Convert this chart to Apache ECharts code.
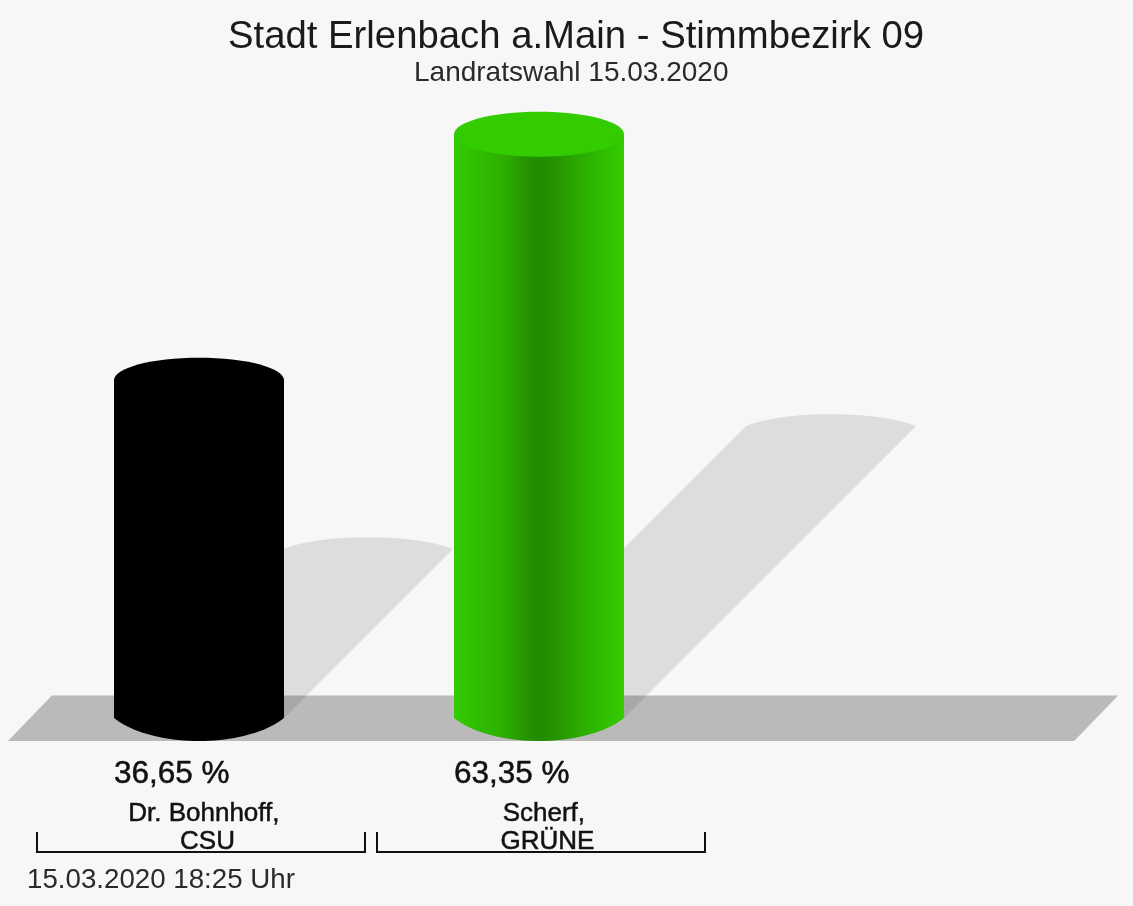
<!DOCTYPE html>
<html>
<head>
<meta charset="utf-8">
<title>Stimmbezirk 09</title>
<style>html,body{margin:0;padding:0;background:#f7f7f7}#c{width:1133px;height:906px}</style>
<script src="https://cdn.jsdelivr.net/npm/echarts@6/dist/echarts.min.js"></script>
</head>
<body>
<div id="c"></div>
<script>
const titleText = 'Stadt Erlenbach a.Main - Stimmbezirk 09';
const subtitleText = 'Landratswahl 15.03.2020';
const timestampText = '15.03.2020 18:25 Uhr';
const categories = ['Dr. Bohnhoff, \nCSU', 'Scherf, \nGRÜNE'];
const shares = [36.65, 63.35];
const barStops = [
  ['#000000', '#000000', '#000000', '#000000', '#000000'],
  ['#33cc00', '#30c000', '#2cae00', '#259400', '#228b00']
];

const chart = echarts.init(document.getElementById('c'), null, {renderer: 'canvas'});
const FONT = '"Liberation Sans", Arial, sans-serif';

function arc(cx, cy, rx, ry, from, to, n) {
  const pts = [];
  for (let i = 0; i <= n; i++) {
    const a = from + (to - from) * i / n;
    pts.push([cx + rx * Math.cos(a), cy + ry * Math.sin(a)]);
  }
  return pts;
}
// circular-segment style arc through the two tips, bulging by sag
function segment(cx, tipY, r, sag, dir) {
  const t = Math.PI / 6;
  const big = sag / (1 - Math.sin(t));
  const cy = tipY - dir * big * Math.sin(t);
  return dir > 0
    ? arc(cx, cy, r / Math.cos(t), big, t, Math.PI - t, 40)
    : arc(cx, cy, r / Math.cos(t), big, Math.PI + t, 2 * Math.PI - t, 40);
}
function geom(api) {
  const base = api.coord([api.value(0), 0]);
  const top = api.coord([api.value(0), api.value(1)]);
  const band = api.size([1, 0])[0];
  return {cx: base[0], base: base[1], topY: top[1], r: band * 0.25, ry: band * 0.066, band};
}

const option = {
  backgroundColor: '#f7f7f7',
  animation: false,
  title: [
    {text: titleText, left: 228, top: 18, padding: 0,
     textStyle: {fontFamily: FONT, fontSize: 38.3, fontWeight: 'normal', color: '#1a1a1a'}},
    {text: subtitleText, left: 414, top: 59, padding: 0,
     textStyle: {fontFamily: FONT, fontSize: 28, fontWeight: 'normal', color: '#2a2a2a'}},
    {text: timestampText, left: 27, top: 866, padding: 0,
     textStyle: {fontFamily: FONT, fontSize: 27.7, fontWeight: 'normal', color: '#2a2a2a'}}
  ],
  grid: {left: 29, width: 680, top: 73, height: 645, containLabel: false},
  xAxis: {
    type: 'category', data: categories,
    axisLine: {show: false}, axisTick: {show: false},
    axisLabel: {
      interval: 0, margin: 82, padding: [0, 0, 0, 17],
      fontFamily: FONT, fontSize: 26, lineHeight: 28, color: '#111',
      textBorderColor: '#111', textBorderWidth: 0.5
    }
  },
  yAxis: {type: 'value', min: 0, max: 70, show: false, splitLine: {show: false}},
  series: [
    {
      name: 'floor', type: 'custom', z: 1, silent: true, clip: false,
      data: [[0, 0]],
      renderItem(params, api) {
        const g = geom(api);
        const left = g.cx - g.band * 0.562, right = g.cx + g.band * 2.574;
        const y0 = g.base + g.ry + 0.5, y1 = g.base - g.ry;
        const shear = 44;
        return {type: 'polygon', shape: {points: [[left, y0], [left + shear, y1], [right + shear, y1], [right, y0]]},
                style: {fill: '#bababa'}};
      }
    },
    {
      name: 'shadow', type: 'custom', z: 2, silent: true, clip: false,
      data: categories.map((c, i) => [i, shares[i]]),
      renderItem(params, api) {
        const g = geom(api);
        const s = (g.base - g.topY) * 0.5;
        const pts = [[g.cx - g.r, g.base]]
          .concat(segment(g.cx + s, g.base - s, g.r, 12, -1))
          .concat([[g.cx + g.r, g.base]]);
        return {type: 'polygon', shape: {points: pts}, style: {fill: 'rgba(0,0,0,0.1)'}};
      }
    },
    {
      name: 'share', type: 'custom', z: 3, clip: false,
      data: categories.map((c, i) => [i, shares[i]]),
      renderItem(params, api) {
        const g = geom(api);
        const c = barStops[params.dataIndex];
        const body = [[g.cx - g.r, g.topY], [g.cx + g.r, g.topY]]
          .concat(segment(g.cx, g.base, g.r, 23, 1));
        const fill = new echarts.graphic.LinearGradient(0, 0, 1, 0, [
          {offset: 0, color: c[0]}, {offset: 0.12, color: c[1]},
          {offset: 0.3, color: c[2]}, {offset: 0.42, color: c[3]},
          {offset: 0.5, color: c[4]}, {offset: 0.6, color: c[3]},
          {offset: 0.76, color: c[2]}, {offset: 0.9, color: c[1]},
          {offset: 1, color: c[0]}
        ]);
        const bandLeft = g.cx - g.band * 0.5;
        const insetL = 8, insetR = 4;
        const by0 = g.base + 114, by1 = g.base + 134;
        return {type: 'group', children: [
          {type: 'polygon', shape: {points: body}, style: {fill}},
          {type: 'ellipse', shape: {cx: g.cx, cy: g.topY, rx: g.r, ry: g.ry}, style: {fill: c[0]}},
          {type: 'text', style: {
            text: api.value(1).toFixed(2).replace('.', ',') + ' %',
            x: g.cx - g.r, y: g.base + 56, align: 'left', verticalAlign: 'middle',
            font: '31.5px ' + FONT, fill: '#111', stroke: '#111', lineWidth: 0.5
          }},
          {type: 'polyline', shape: {points: [
            [bandLeft + insetL, by0], [bandLeft + insetL, by1],
            [bandLeft + g.band - insetR, by1], [bandLeft + g.band - insetR, by0]
          ]}, style: {fill: 'none', stroke: '#111', lineWidth: 2}}
        ]};
      }
    }
  ]
};
chart.setOption(option);
</script>
</body>
</html>
